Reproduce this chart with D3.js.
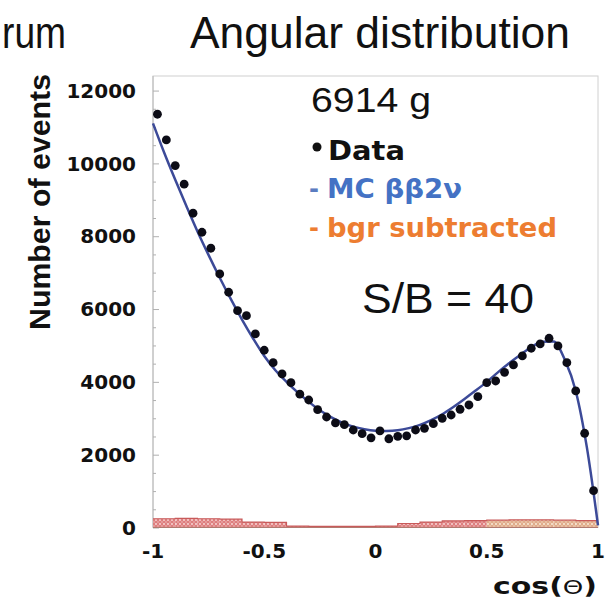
<!DOCTYPE html>
<html>
<head>
<meta charset="utf-8">
<script src="https://cdn.jsdelivr.net/npm/d3@7"></script>
<style>
  body { margin: 0; background: #fff; }
  svg { display: block; }
</style>
</head>
<body>
<div id="chart"></div>
<script>
// data points (bin centres of cos(theta), counts)
var dataX = [-0.98, -0.94, -0.90, -0.86, -0.82, -0.78, -0.74, -0.70, -0.66, -0.62,
  -0.58, -0.54, -0.50, -0.46, -0.42, -0.38, -0.34, -0.30, -0.26, -0.22,
  -0.18, -0.14, -0.10, -0.06, -0.02, 0.02, 0.06, 0.10, 0.14, 0.18,
  0.22, 0.26, 0.30, 0.34, 0.38, 0.42, 0.46, 0.50, 0.54, 0.58,
  0.62, 0.66, 0.70, 0.74, 0.78, 0.82, 0.86, 0.90, 0.94, 0.98];
var dataY = [11350, 10645, 9939, 9428, 8631, 8109, 7670, 6964, 6461, 5956,
  5818, 5316, 4868, 4527, 4217, 3978, 3662, 3502, 3236, 3035,
  2871, 2824, 2678, 2577, 2464, 2651, 2437, 2505, 2519, 2678,
  2725, 2851, 3000, 3090, 3247, 3365, 3593, 3978, 4024, 4263,
  4464, 4711, 4923, 5041, 5197, 4986, 4527, 3750, 2588, 1011];

// MC bb2v curve
var mcX = [-1.00, -0.95, -0.90, -0.85, -0.80, -0.75, -0.70, -0.65, -0.60, -0.55,
  -0.50, -0.45, -0.40, -0.35, -0.30, -0.25, -0.20, -0.15, -0.10, -0.05,
  0.00, 0.05, 0.10, 0.15, 0.20, 0.25, 0.30, 0.35, 0.40, 0.45,
  0.50, 0.55, 0.60, 0.65, 0.70, 0.75, 0.80, 0.85, 0.90, 0.95, 1.00];
var mcY = [11100, 10300, 9550, 8830, 8130, 7480, 6860, 6270, 5710, 5190,
  4710, 4320, 4000, 3710, 3450, 3220, 3030, 2880, 2770, 2700,
  2660, 2650, 2670, 2730, 2820, 2950, 3110, 3310, 3530, 3760,
  4000, 4260, 4510, 4740, 4950, 5100, 5110, 4620, 3750, 2200, 60];

// subtracted background histogram (lower bin edges, width 0.1)
var bgrX = [-1.0, -0.9, -0.8, -0.7, -0.6, -0.5, -0.4, -0.3, -0.2, -0.1,
  0.0, 0.1, 0.2, 0.3, 0.4, 0.5, 0.6, 0.7, 0.8, 0.9];
var bgrY = [240, 250, 240, 230, 150, 140, 40, 30, 30, 30,
  40, 110, 150, 180, 190, 200, 210, 210, 200, 190];

var xTicks = [-1, -0.5, 0, 0.5, 1];
var xTickLabels = ["-1", "-0.5", "0", "0.5", "1"];
var yTicks = [0, 2000, 4000, 6000, 8000, 10000, 12000];

var W = 608, H = 603;
var svg = d3.select("#chart").append("svg").attr("width", W).attr("height", H);
svg.append("rect").attr("width", W).attr("height", H).attr("fill", "#fff");

var x = d3.scaleLinear().domain([-1, 1]).range([153, 598]);
var y = d3.scaleLinear().domain([0, 12400]).range([527.5, 76]);

initDefs(svg);

// frame
svg.append("rect")
  .attr("x", x(-1)).attr("y", y(12400))
  .attr("width", x(1) - x(-1)).attr("height", y(0) - y(12400))
  .attr("fill", "none").attr("stroke", "#d0d0d0").attr("stroke-width", 1);
svg.append("line")
  .attr("x1", x(-1)).attr("x2", x(-1)).attr("y1", y(12400)).attr("y2", y(0))
  .attr("stroke", "#b8b8b8");

// y ticks, inward: major every 2000, minor every 500
var yAxis = d3.axisRight(y).tickValues(d3.range(0, 12001, 500))
  .tickSize(3).tickFormat("");
var ya = svg.append("g").attr("transform", "translate(" + x(-1) + ",0)").call(yAxis);
ya.select(".domain").remove();
ya.selectAll(".tick line").attr("stroke", "#b0b0b0")
  .attr("x2", function (d) { return d % 2000 === 0 ? 6 : 3; });

svg.append("g").selectAll("text").data(yTicks).enter().append("text")
  .attr("x", 136).attr("y", function (d) { return y(d); })
  .attr("dy", "0.36em").attr("text-anchor", "end")
  .style("font", "bold 20px 'DejaVu Sans'").attr("fill", "#111")
  .text(function (d) { return d; });

svg.append("g").selectAll("text").data(xTicks).enter().append("text")
  .attr("x", function (d) { return x(d); }).attr("y", 558)
  .attr("text-anchor", "middle")
  .style("font", "bold 20px 'DejaVu Sans'").attr("fill", "#111")
  .text(function (d, i) { return xTickLabels[i]; });

// background histogram
svg.append("g").selectAll("rect").data(bgrX).enter().append("rect")
  .attr("x", function (d) { return x(d); })
  .attr("width", function (d) { return x(d + 0.1) - x(d); })
  .attr("y", function (d, i) { return y(bgrY[i]); })
  .attr("height", function (d, i) { return y(0) - y(bgrY[i]); })
  .attr("fill", function (d) { return d >= 0.45 ? "url(#hatchTan)" : "url(#hatchRed)"; });
svg.append("path")
  .datum(bgrX.concat([1.0]))
  .attr("d", d3.line().curve(d3.curveStepAfter)
    .x(function (d) { return x(d); })
    .y(function (d, i) { return y(bgrY[Math.min(i, bgrY.length - 1)]); }))
  .attr("fill", "none").attr("stroke", "#c85a5a").attr("stroke-width", 1.2);
svg.append("line")
  .attr("x1", x(-1)).attr("x2", x(1)).attr("y1", y(0)).attr("y2", y(0))
  .attr("stroke", "#b07a70").attr("stroke-width", 1);

// MC curve
var mcLine = d3.line().curve(d3.curveMonotoneX)
  .x(function (d) { return x(d); })
  .y(function (d, i) { return y(mcY[i]); });
svg.append("path").datum(mcX).attr("d", mcLine)
  .attr("fill", "none").attr("stroke", "#3c4a98").attr("stroke-width", 2.5);

// data points
svg.append("g").selectAll("circle").data(dataX).enter().append("circle")
  .attr("cx", function (d) { return x(d); })
  .attr("cy", function (d, i) { return y(dataY[i]); })
  .attr("r", 4.4).attr("fill", "#0c0c16");

// titles and labels
function label(txt, px, py, font, len, color, anchor) {
  var t = svg.append("text").attr("x", px).attr("y", py)
    .style("font", font).attr("fill", color || "#111")
    .attr("text-anchor", anchor || "start").text(txt);
  if (len) t.attr("textLength", len).attr("lengthAdjust", "spacingAndGlyphs");
  return t;
}
label("rum", 2, 48, "45px 'Liberation Sans'", 64);
label("Angular distribution", 190, 48, "45px 'Liberation Sans'", 380);
label("6914 g", 311, 112, "35px 'Liberation Sans'", 120);
svg.append("circle").attr("cx", 317).attr("cy", 147).attr("r", 4.5).attr("fill", "#111");
label("Data", 328, 160, "bold 27px 'DejaVu Sans'", 77);
label("-", 309, 197, "bold 24px 'DejaVu Sans'", null, "#5a7cc0");
label("MC \u03b2\u03b22\u03bd", 327, 198, "bold 27px 'DejaVu Sans'", 135, "#4472c4");
label("-", 309, 236, "bold 24px 'DejaVu Sans'", null, "#ed7d31");
label("bgr subtracted", 327, 237, "bold 27px 'DejaVu Sans'", 230, "#ed7d31");
label("S/B = 40", 362, 313, "42px 'Liberation Sans'", 172);

// x axis title: "cos(" bold, theta lighter
var xt = svg.append("text").attr("x", 597).attr("y", 594)
  .attr("text-anchor", "end")
  .style("font", "bold 23px 'DejaVu Sans'").attr("fill", "#111")
  .attr("textLength", 104).attr("lengthAdjust", "spacingAndGlyphs");
xt.append("tspan").text("cos(");
xt.append("tspan").style("font-weight", "normal").style("font-size", "20px").text("\u0398");
xt.append("tspan").text(")");

svg.append("text")
  .attr("transform", "translate(50,202) rotate(-90)")
  .attr("text-anchor", "middle")
  .style("font", "bold 30px 'Liberation Sans'").attr("fill", "#111")
  .attr("textLength", 256).attr("lengthAdjust", "spacingAndGlyphs")
  .text("Number of events");

function initDefs(svg) {
  var defs = svg.append("defs");
  var red = defs.append("pattern").attr("id", "hatchRed")
    .attr("patternUnits", "userSpaceOnUse").attr("width", 4).attr("height", 4);
  red.append("rect").attr("width", 4).attr("height", 4).attr("fill", "#f2c4c4");
  red.append("circle").attr("cx", 2).attr("cy", 2).attr("r", 1.4)
    .attr("fill", "none").attr("stroke", "#d45c5c").attr("stroke-width", 0.9);
  var tan = defs.append("pattern").attr("id", "hatchTan")
    .attr("patternUnits", "userSpaceOnUse").attr("width", 4).attr("height", 4);
  tan.append("rect").attr("width", 4).attr("height", 4).attr("fill", "#f3dcc8");
  tan.append("circle").attr("cx", 2).attr("cy", 2).attr("r", 1.4)
    .attr("fill", "none").attr("stroke", "#d8946c").attr("stroke-width", 0.9);
}
</script>
</body>
</html>
